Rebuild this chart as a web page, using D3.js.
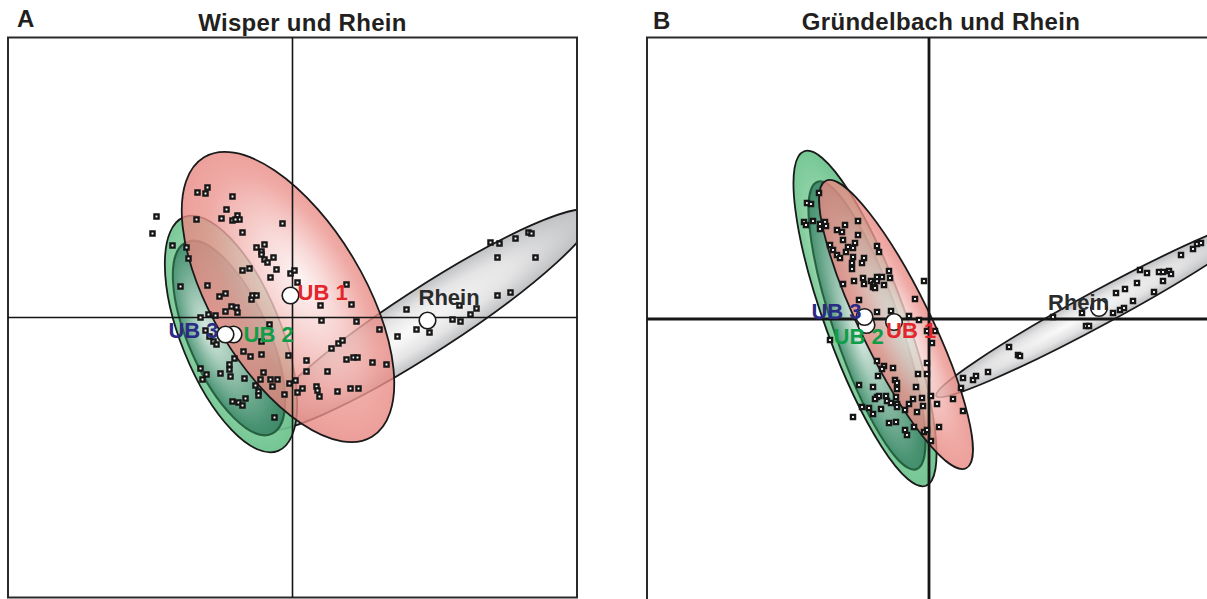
<!DOCTYPE html>
<html><head><meta charset="utf-8">
<script src="https://cdn.jsdelivr.net/npm/d3@7"></script>
<style>
body{margin:0;background:#fff;}
svg{display:block;font-family:"Liberation Sans",Arial,Helvetica,sans-serif;}
</style></head><body>
<svg id="chart" width="1207" height="599"></svg>
<script>
// ---------------- data ----------------
const groups = ["UB 1", "UB 2", "UB 3", "Rhein"];
const panelLetters = ["A", "B"];
const panelTitles = ["Wisper und Rhein", "Gründelbach und Rhein"];

// sample scores (axis 1, axis 2)
const pointsA = [[-1.36,1.01],[-1.40,0.84],[-0.95,1.25],[-0.87,1.24],[-0.85,1.30],[-0.60,1.21],[-0.96,0.98],[-1.20,0.72],[-1.06,0.70],[-1.04,0.59],[-0.66,1.08],[-0.71,0.99],[-0.60,0.97],[-0.55,1.02],[-0.53,0.98],[-0.57,0.98],[-0.50,0.85],[-0.10,0.94],[-0.36,0.70],[-0.28,0.73],[-0.31,0.66],[-0.31,0.63],[-0.28,0.58],[-0.25,0.55],[-0.19,0.60],[-0.43,0.49],[-0.50,0.47],[-0.16,0.48],[-0.22,0.40],[-0.02,0.44],[0.02,0.47],[0.05,0.35],[-1.12,0.31],[-0.85,0.32],[-0.73,0.21],[-0.67,0.24],[-0.41,0.18],[-0.40,0.22],[-0.36,0.22],[-0.67,0.06],[-0.61,0.11],[-0.56,0.10],[-0.55,0.05],[-0.92,0.00],[-0.84,0.03],[-0.77,0.02],[0.54,0.33],[0.59,0.13],[0.28,0.12],[0.29,-0.03],[0.64,-0.04],[0.87,-0.12],[1.14,0.08],[1.05,-0.19],[1.24,-0.12],[1.37,-0.15],[0.39,-0.31],[0.46,-0.26],[0.50,-0.23],[-0.23,-0.07],[-0.87,-0.13],[-0.83,-0.19],[-0.79,-0.24],[-0.76,-0.27],[-0.31,-0.24],[-0.49,-0.34],[-0.42,-0.39],[-0.31,-0.37],[-0.58,-0.41],[-0.63,-0.47],[-0.63,-0.52],[-0.62,-0.59],[-0.72,-0.56],[-0.92,-0.51],[-0.86,-0.57],[-0.90,-0.62],[-0.48,-0.61],[-0.29,-0.55],[-0.32,-0.62],[-0.37,-0.68],[-0.34,-0.74],[-0.34,-0.78],[-0.47,-0.81],[-0.60,-0.84],[-0.54,-0.85],[-0.50,-0.88],[-0.22,-0.62],[-0.15,-0.62],[-0.20,-0.69],[-0.08,-0.77],[-0.03,-0.66],[0.03,-0.63],[0.05,-0.75],[0.10,-0.71],[-0.04,-0.38],[0.14,-0.43],[0.14,-0.54],[-0.18,-1.00],[1.60,-0.02],[1.68,-0.04],[1.67,0.12],[1.78,0.03],[1.84,0.09],[0.54,-0.42],[0.61,-0.40],[0.65,-0.40],[0.80,-0.45],[0.94,-0.47],[0.35,-0.54],[0.24,-0.69],[0.25,-0.73],[0.27,-0.79],[0.45,-0.74],[0.58,-0.71],[0.66,-0.71],[1.98,0.75],[2.07,0.74],[2.23,0.79],[2.36,0.85],[2.39,0.84],[2.05,0.60],[2.43,0.60],[2.05,0.22],[2.18,0.25]];

const pointsB = [[-1.10,1.26],[-1.22,1.16],[-1.18,1.15],[-1.25,0.97],[-1.23,0.94],[-1.16,0.98],[-1.09,0.95],[-1.09,0.90],[-1.04,0.97],[-1.03,0.93],[-0.84,0.94],[-0.71,0.98],[-0.92,0.89],[-0.87,0.87],[-0.71,0.84],[-0.86,0.79],[-0.74,0.76],[-0.99,0.74],[-0.96,0.69],[-0.81,0.72],[-0.76,0.71],[-0.83,0.67],[-0.92,0.64],[-0.89,0.61],[-0.76,0.62],[-0.65,0.61],[-0.52,0.73],[-0.50,0.67],[-0.67,0.56],[-0.77,0.56],[-0.77,0.50],[-0.40,0.48],[-0.86,0.35],[-0.75,0.38],[-0.66,0.41],[-0.65,0.35],[-0.58,0.38],[-0.55,0.35],[-0.52,0.38],[-0.52,0.42],[-0.56,0.32],[-0.54,0.31],[-0.47,0.42],[-0.39,0.41],[-0.45,0.34],[-0.05,0.38],[-0.70,0.19],[-0.14,0.20],[-0.52,0.07],[-0.38,0.08],[-0.20,0.03],[-0.10,-0.01],[-0.99,-0.21],[-0.52,-0.42],[-0.45,-0.47],[-0.47,-0.50],[-0.36,-0.49],[-0.51,-0.57],[-0.34,-0.61],[-0.32,-0.64],[-0.70,-0.66],[-0.56,-0.68],[-0.32,-0.70],[-0.13,-0.68],[-0.11,-0.55],[-0.02,-0.55],[-0.02,-0.44],[0.03,-0.24],[0.06,-0.12],[-0.02,-0.12],[-0.52,-0.78],[-0.50,-0.77],[-0.54,-0.80],[-0.43,-0.77],[-0.42,-0.82],[-0.33,-0.78],[-0.38,-0.84],[-0.32,-0.85],[-0.32,-0.88],[-0.20,-0.85],[-0.16,-0.80],[-0.07,-0.79],[-0.06,-0.87],[0.02,-0.77],[0.08,-0.85],[-0.67,-0.88],[-0.60,-0.89],[-0.56,-0.95],[-0.48,-0.90],[-0.24,-0.91],[-0.12,-0.93],[-0.76,-0.98],[-0.33,-1.03],[-0.40,-1.04],[-0.15,-1.08],[-0.24,-1.11],[-0.22,-1.16],[-0.05,-1.13],[-0.02,-1.11],[0.02,-1.22],[0.10,-1.08],[0.24,-0.80],[0.34,-0.92],[0.34,-0.59],[0.44,-0.61],[0.47,-0.57],[0.59,-0.53],[0.32,-0.69],[0.80,-0.28],[0.89,-0.36],[0.91,-0.37],[1.24,0.02],[1.53,0.06],[1.57,-0.07],[1.60,-0.07],[1.84,0.06],[1.91,0.09],[1.95,0.11],[1.87,0.26],[1.96,0.30],[2.04,0.18],[2.08,0.36],[2.11,0.49],[2.18,0.46],[2.30,0.47],[2.34,0.47],[2.40,0.48],[2.42,0.45],[2.34,0.38],[2.25,0.27],[2.52,0.64],[2.64,0.70],[2.68,0.75],[2.72,0.76]];

// group centroids, order = groups
const centroidsA = [[-0.02,0.22],[-0.59,-0.17],[-0.67,-0.17],[1.35,-0.03]];
const centroidsB = [[-0.35,-0.03],[-0.625,-0.06],[-0.645,0.02],[1.70,0.11]];

// dispersion ellipses [centre x, centre y, semi-major, semi-minor, angle deg], order = groups
const ellipsesA = [[-0.045,0.205,1.63,0.76,-59],[-0.615,-0.165,1.26,0.50,-68],[-0.635,-0.205,1.05,0.40,-66],[1.345,-0.025,1.97,0.32,33]];
const ellipsesB = [[-0.33,-0.055,1.60,0.35,-64],[-0.64,0.005,1.78,0.40,-70],[-0.62,-0.065,1.52,0.33,-71],[1.70,0.11,1.85,0.17,28.4]];

// ---------------- styling / layout ----------------
const layout = [
  {x0:8, x1:577, y0:37.5, y1:597.5, xd:2.845, yd:2.8, axisW:1.6, titleX:302.5, titleY:31, letterX:17, letterY:27},
  {x0:647, x1:1211, y0:37.5, y1:600.5, xd:2.82, yd:2.815, axisW:2.8, titleX:941, titleY:29.5, letterX:653, letterY:28.5}
];
const labelColors = ["#e3262b", "#0f9d48", "#2b2a85", "#2b2b2b"];
const labelPos = [
  [{dx:7,dy:4,a:"start"},{dx:10,dy:7.5,a:"start"},{dx:-7,dy:3,a:"end"},{dx:-9,dy:-16,a:"start"}],
  [{dx:-8,dy:15.5,a:"start"},{dx:-33,dy:19,a:"start"},{dx:-3,dy:1.5,a:"end"},{dx:-51,dy:1.5,a:"start"}]
];
// gradient specs per group: focal (fx,fy), stops
const gradSpecs = [
  [ // A
    {fx:0.47, fy:0.36, r:0.6, stops:[[0,"#fdf0f0"],[0.28,"#f6cfcd"],[0.65,"#ec9690"],[1,"#e37a74"]], op:0.8},
    {fx:0.42, fy:0.62, r:0.6, stops:[[0,"#cdebd7"],[0.5,"#92d4a7"],[1,"#55b97d"]], op:0.92},
    {fx:0.42, fy:0.72, r:0.62, stops:[[0,"#dceae4"],[0.35,"#93bfac"],[0.75,"#428d6d"],[1,"#2e7656"]], op:0.92},
    {fx:0.42, fy:0.5, r:0.6, stops:[[0,"#fafafa"],[0.5,"#e4e4e5"],[1,"#aeb0b3"]], op:1}
  ],
  [ // B
    {fx:0.52, fy:0.45, r:0.6, stops:[[0,"#fcefef"],[0.28,"#f5cdcb"],[0.65,"#ec9690"],[1,"#e37a74"]], op:0.8},
    {fx:0.45, fy:0.65, r:0.6, stops:[[0,"#cdebd7"],[0.5,"#92d4a7"],[1,"#55b97d"]], op:0.92},
    {fx:0.52, fy:0.68, r:0.62, stops:[[0,"#dbe9e3"],[0.35,"#93bfac"],[0.75,"#428d6d"],[1,"#2e7656"]], op:0.92},
    {fx:0.4, fy:0.5, r:0.6, stops:[[0,"#fafafa"],[0.5,"#e2e2e3"],[1,"#acaeb1"]], op:1}
  ]
];
const strokeSpec = [
  {c:"#1a1a1a", w:1.8}, {c:"#1a1a1a", w:1.8}, {c:"#1b5434", w:2}, {c:"#1a1a1a", w:1.8}
];
const drawOrder = [3, 1, 2, 0];

// ---------------- drawing ----------------
const svg = d3.select("#chart");
const defs = svg.append("defs");
const dataSets = [
  {points: pointsA, centroids: centroidsA, ellipses: ellipsesA},
  {points: pointsB, centroids: centroidsB, ellipses: ellipsesB}
];

dataSets.forEach((ds, pi) => {
  const L = layout[pi];
  const x = d3.scaleLinear().domain([-L.xd, L.xd]).range([L.x0, L.x1]);
  const y = d3.scaleLinear().domain([-L.yd, L.yd]).range([L.y1, L.y0]);
  const g = svg.append("g");

  defs.append("clipPath").attr("id", "clip" + pi)
    .append("rect").attr("x", L.x0).attr("y", L.y0)
    .attr("width", L.x1 - L.x0).attr("height", L.y1 - L.y0);

  gradSpecs[pi].forEach((gs, gi) => {
    const rg = defs.append("radialGradient").attr("id", `grad${pi}_${gi}`)
      .attr("cx", 0.5).attr("cy", 0.5).attr("r", gs.r).attr("fx", gs.fx).attr("fy", gs.fy);
    gs.stops.forEach(s => rg.append("stop").attr("offset", s[0]).attr("stop-color", s[1]));
  });

  const eg = g.append("g").attr("clip-path", `url(#clip${pi})`);
  drawOrder.forEach(gi => {
    const e = ds.ellipses[gi];
    const rx = x(e[2]) - x(0), ry = y(0) - y(e[3]);
    eg.append("ellipse")
      .attr("cx", 0).attr("cy", 0).attr("rx", rx).attr("ry", ry)
      .attr("transform", `translate(${x(e[0])},${y(e[1])}) rotate(${-e[4]})`)
      .attr("fill", `url(#grad${pi}_${gi})`)
      .attr("fill-opacity", gradSpecs[pi][gi].op)
      .attr("stroke", strokeSpec[gi].c)
      .attr("stroke-width", strokeSpec[gi].w)
      .attr("stroke-opacity", gi === 2 ? 0.85 : 1);
  });

  g.append("rect").attr("x", L.x0).attr("y", L.y0)
    .attr("width", L.x1 - L.x0).attr("height", L.y1 - L.y0)
    .attr("fill", "none").attr("stroke", "#2a2a2a").attr("stroke-width", 2);

  g.append("line").attr("x1", L.x0).attr("x2", L.x1).attr("y1", y(0)).attr("y2", y(0))
    .attr("stroke", "#151515").attr("stroke-width", L.axisW);
  g.append("line").attr("x1", x(0)).attr("x2", x(0)).attr("y1", L.y0).attr("y2", L.y1)
    .attr("stroke", "#151515").attr("stroke-width", L.axisW);

  const ps = 4.2;
  g.append("g").attr("clip-path", `url(#clip${pi})`).selectAll("rect.pt").data(ds.points).join("rect")
    .attr("class", "pt")
    .attr("x", d => x(d[0]) - ps / 2).attr("y", d => y(d[1]) - ps / 2)
    .attr("width", ps).attr("height", ps)
    .attr("fill", "#ffffff").attr("stroke", "#161616").attr("stroke-width", 2.3);

  g.selectAll("circle.cen").data(ds.centroids).join("circle")
    .attr("class", "cen")
    .attr("cx", d => x(d[0])).attr("cy", d => y(d[1])).attr("r", 8.3)
    .attr("fill", "#ffffff").attr("stroke", "#1a1a1a").attr("stroke-width", 1.6);

  g.selectAll("text.lab").data(groups).join("text")
    .attr("class", "lab")
    .attr("x", (d, i) => x(ds.centroids[i][0]) + labelPos[pi][i].dx)
    .attr("y", (d, i) => y(ds.centroids[i][1]) + labelPos[pi][i].dy)
    .attr("text-anchor", (d, i) => labelPos[pi][i].a)
    .attr("fill", (d, i) => labelColors[i])
    .attr("font-size", 22).attr("font-weight", "bold")
    .text(d => d);

  svg.append("text").attr("x", L.titleX).attr("y", L.titleY)
    .attr("text-anchor", "middle").attr("font-size", 24).attr("font-weight", "bold")
    .attr("fill", "#231f20").attr("letter-spacing", 0.3).text(panelTitles[pi]);
  svg.append("text").attr("x", L.letterX).attr("y", L.letterY)
    .attr("font-size", 24).attr("font-weight", "bold").attr("fill", "#231f20")
    .text(panelLetters[pi]);
});
</script>
</body></html>
